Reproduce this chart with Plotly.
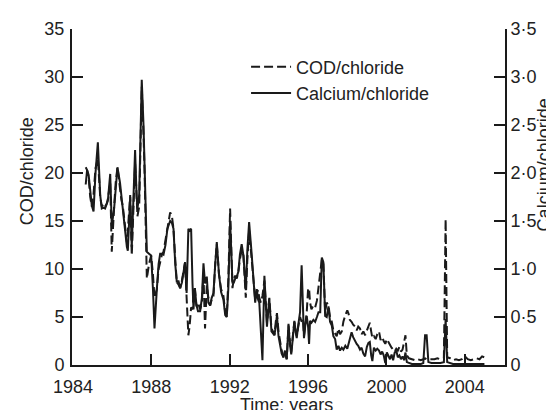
import plotly.graph_objects as go

# ---- data ----
dates = [
    1984.65, 1984.72, 1984.80, 1984.88, 1984.96,
    1985.05, 1985.15, 1985.27, 1985.39, 1985.47, 1985.56, 1985.64, 1985.72, 1985.78, 1985.90, 1985.98,
    1986.10, 1986.18, 1986.27, 1986.40, 1986.47, 1986.54, 1986.66, 1986.75, 1986.80, 1986.92,
    1987.00, 1987.08, 1987.17, 1987.25, 1987.29, 1987.38, 1987.51, 1987.60, 1987.65, 1987.77, 1987.88, 1987.99,
    1988.08, 1988.16, 1988.28, 1988.37, 1988.45, 1988.54, 1988.62, 1988.72, 1988.82, 1988.96,
    1989.05, 1989.13, 1989.22, 1989.30, 1989.38, 1989.47, 1989.56, 1989.64, 1989.72, 1989.80, 1989.89, 1989.95,
    1990.03, 1990.10, 1990.15, 1990.22, 1990.30, 1990.38, 1990.49, 1990.58, 1990.66, 1990.74, 1990.83, 1990.91,
    1991.00, 1991.08, 1991.17, 1991.26, 1991.34, 1991.45, 1991.56, 1991.68, 1991.77, 1991.85, 1991.93,
    1992.02, 1992.08, 1992.14, 1992.21, 1992.28, 1992.36, 1992.44, 1992.52, 1992.61, 1992.70, 1992.82, 1992.90, 1992.99,
    1993.10, 1993.21, 1993.30, 1993.38, 1993.45, 1993.51, 1993.59, 1993.67, 1993.77, 1993.84, 1993.90,
    1994.02, 1994.08, 1994.13, 1994.21, 1994.28, 1994.35, 1994.41, 1994.49, 1994.57, 1994.65, 1994.74, 1994.82, 1994.91,
    1995.00, 1995.07, 1995.14, 1995.22, 1995.30, 1995.36, 1995.42, 1995.50, 1995.59, 1995.67, 1995.73, 1995.79, 1995.86, 1995.93,
    1996.00, 1996.05, 1996.10, 1996.17, 1996.27, 1996.36, 1996.45, 1996.53, 1996.62, 1996.70, 1996.78, 1996.87, 1996.95,
    1997.04, 1997.12, 1997.21, 1997.29, 1997.38, 1997.46, 1997.55, 1997.63, 1997.72, 1997.80, 1997.90,
    1998.00, 1998.07, 1998.13, 1998.22, 1998.30, 1998.40, 1998.48, 1998.56, 1998.65, 1998.73, 1998.82, 1998.91,
    1999.00, 1999.08, 1999.15, 1999.22, 1999.28, 1999.36, 1999.45, 1999.53, 1999.62, 1999.70, 1999.78, 1999.86, 1999.94,
    2000.02, 2000.10, 2000.18, 2000.26, 2000.34, 2000.42, 2000.50, 2000.58, 2000.66, 2000.74, 2000.82, 2000.90, 2000.97,
    2001.04, 2001.15, 2001.30, 2001.45, 2001.60, 2001.75, 2001.88, 2001.97,
    2002.05, 2002.14, 2002.30, 2002.45, 2002.60, 2002.75, 2002.93,
    2003.02, 2003.10, 2003.25, 2003.40, 2003.55, 2003.70, 2003.85,
    2004.00, 2004.15, 2004.30, 2004.45, 2004.60, 2004.75, 2004.88, 2005.00,
]

cod_chloride = [
    20.6, 20.3, 19.5, 17.5, 16.5,
    17.8, 20.5, 21.5, 17.5, 16.5, 16.8, 16.5, 16.8, 17.3, 19.0, 11.8,
    16.5, 19.0, 20.6, 18.0, 17.2, 16.6, 14.0, 12.8, 14.0, 17.7,
    11.4, 15.5, 21.0, 17.5, 15.5, 16.5, 29.0, 24.0, 20.5, 9.0, 10.5, 11.4,
    9.5, 7.0, 7.9, 10.0, 10.7, 11.5, 11.8, 13.0, 14.2, 15.9,
    15.5, 14.2, 11.0, 8.6, 8.4, 8.0, 8.8, 9.8, 10.7, 7.0, 3.1, 4.0,
    6.0, 5.8, 7.2, 8.0, 6.1, 6.5, 5.8, 6.5, 9.5, 3.8, 8.3, 7.0,
    6.2, 6.8, 7.2, 10.5, 12.6, 9.5, 7.9, 7.2, 5.5, 5.0, 9.0,
    16.3, 13.0, 8.0, 9.0, 9.3, 9.0, 9.7, 11.0, 12.0, 11.4, 7.0, 11.0, 14.0,
    11.5, 8.5, 6.8, 7.5, 7.8, 7.0, 6.5, 7.2, 8.8, 6.5, 4.4,
    7.0, 5.5, 3.8, 3.5, 3.1, 4.5, 5.4, 3.5, 2.4, 1.5, 0.8, 1.2, 0.6,
    4.1, 2.5, 1.3, 3.0, 4.5, 3.5, 3.0, 4.0, 5.0, 4.5, 4.8, 3.0, 4.0, 5.5,
    7.9, 8.0, 6.5, 5.8, 6.2, 6.0, 6.7, 8.3, 10.0, 11.0, 10.5, 5.5, 6.5,
    6.2, 5.0, 4.5, 3.6, 3.3, 3.0, 3.8, 3.2, 3.5, 4.5, 5.2,
    5.7, 5.3, 4.7, 4.5, 4.2, 4.0, 3.6, 4.0, 3.8, 3.2, 3.5, 3.1,
    3.6, 4.0, 4.4, 3.5, 2.8, 3.0, 2.7, 3.2, 3.5, 2.6, 2.9, 2.5, 2.2,
    2.7, 2.4, 2.0, 1.8, 1.6, 1.4, 1.7, 1.5, 1.9, 1.4, 1.6, 2.6, 3.1,
    1.0, 0.7, 0.6, 0.5, 0.6, 0.5, 0.6, 0.7,
    0.6, 0.6, 0.6, 0.6, 0.7, 0.6, 0.7,
    15.2, 0.8, 0.7, 0.5, 0.6, 0.5, 0.6,
    0.9, 0.6, 0.5, 0.6, 0.7, 0.6, 0.9, 0.8,
]

calcium_chloride = [
    1.88, 2.03, 1.98, 1.80, 1.66,
    1.60, 2.00, 2.32, 1.77, 1.63, 1.64, 1.63, 1.69, 1.71, 1.99, 1.45,
    1.63, 1.86, 2.06, 1.90, 1.75, 1.66, 1.35, 1.23, 1.19, 1.75,
    1.23, 1.65, 2.24, 1.75, 1.63, 1.77, 2.97, 2.50, 2.05, 1.18, 1.16, 1.14,
    0.80, 0.38, 0.79, 1.05, 1.16, 1.16, 1.15, 1.25, 1.42, 1.50,
    1.48, 1.42, 1.05, 0.86, 0.88, 0.80, 0.86, 0.95, 1.07, 0.75, 1.42, 1.40,
    1.42, 0.85, 0.58, 0.80, 0.63, 0.56, 0.56, 0.70, 1.06, 0.85, 0.92, 0.65,
    0.62, 0.70, 0.75, 1.05, 1.28, 0.95, 0.76, 0.68, 0.52, 0.50, 0.80,
    1.50, 1.25, 0.86, 0.86, 0.90, 0.92, 0.97, 1.15, 1.26, 1.14, 0.78, 1.20, 1.49,
    1.21, 0.93, 0.65, 0.79, 0.68, 0.65, 0.40, 0.05, 0.93, 0.55, 0.40,
    0.69, 0.45, 0.35, 0.33, 0.31, 0.40, 0.52, 0.30, 0.20, 0.12, 0.08, 0.15, 0.06,
    0.43, 0.22, 0.11, 0.28, 0.46, 0.36, 0.28, 0.42, 0.55, 1.04, 0.50, 0.28, 0.42, 0.51,
    0.40, 0.22, 0.46, 0.44, 0.47, 0.45, 0.50, 0.55, 0.55, 1.12, 1.07, 0.51, 0.50,
    0.61, 0.45, 0.41, 0.30, 0.27, 0.16, 0.20, 0.15, 0.18, 0.16, 0.20,
    0.17, 0.23, 0.28, 0.34, 0.29, 0.24, 0.22, 0.20, 0.16, 0.18, 0.12, 0.09,
    0.19, 0.23, 0.24, 0.10, 0.04, 0.18, 0.15, 0.17, 0.15, 0.11, 0.14, 0.10, 0.02,
    0.13, 0.10, 0.06, 0.11, 0.05, 0.13, 0.15, 0.08, 0.10, 0.06, 0.09, 0.05, 0.13,
    0.03, 0.02, 0.01, 0.01, 0.01, 0.01, 0.02, 0.31,
    0.31, 0.03, 0.02, 0.02, 0.02, 0.02, 0.03,
    0.48, 0.03, 0.02, 0.01, 0.01, 0.01, 0.01,
    0.01, 0.01, 0.01, 0.01, 0.01, 0.01, 0.01, 0.01,
]

x_ticks = [1984, 1988, 1992, 1996, 2000, 2004]
left_ticks = [0, 5, 10, 15, 20, 25, 30, 35]
right_ticks = [0, 0.5, 1.0, 1.5, 2.0, 2.5, 3.0, 3.5]
right_tick_text = ["0", "0·5", "1·0", "1·5", "2·0", "2·5", "3·0", "3·5"]

assert len(dates) == len(cod_chloride) == len(calcium_chloride)

# ---- styling ----
INK = "#1a1a1a"
TXT = "#222"
FONT = "Liberation Sans, Arial, sans-serif"

fig = go.Figure()
fig.add_trace(go.Scatter(
    x=dates, y=cod_chloride, name="COD/chloride", mode="lines",
    line=dict(color=INK, width=2, dash="9px,4px"), yaxis="y",
))
fig.add_trace(go.Scatter(
    x=dates, y=calcium_chloride, name="Calcium/chloride", mode="lines",
    line=dict(color=INK, width=2), yaxis="y2",
))

axis_common = dict(
    showline=True, linecolor=INK, linewidth=2, ticks="inside", ticklen=11,
    tickwidth=2, tickcolor=INK, showgrid=False, zeroline=False,
    tickfont=dict(family=FONT, size=18, color=TXT),
)

fig.update_layout(
    width=554, height=410, autosize=False,
    margin=dict(l=64, r=57, t=21, b=53, pad=0),
    paper_bgcolor="white", plot_bgcolor="white",
    font=dict(family=FONT, size=18, color=TXT),
    showlegend=True,
    legend=dict(x=0.402, y=0.942, xanchor="left", yanchor="top",
                bgcolor="rgba(0,0,0,0)", font=dict(family=FONT, size=18, color=TXT),
                itemwidth=40, tracegroupgap=0),
    xaxis=dict(range=[1983.95, 2006.05], tickvals=x_ticks, ticklabelstandoff=4, **axis_common),
    yaxis=dict(range=[0, 35], tickvals=left_ticks, ticklabelstandoff=2, **axis_common),
    yaxis2=dict(range=[0, 3.5], tickvals=right_ticks, ticktext=right_tick_text,
                overlaying="y", side="right", ticklabelstandoff=0, **axis_common),
    annotations=[
        dict(text="COD/chloride", xref="paper", yref="paper", x=-0.102, y=0.576,
             textangle=-90, showarrow=False, xanchor="center", yanchor="middle",
             font=dict(family=FONT, size=18, color=TXT)),
        dict(text="Calcium/chloride", xref="paper", yref="paper", x=1.090, y=0.597,
             textangle=-90, showarrow=False, xanchor="center", yanchor="middle",
             font=dict(family=FONT, size=18, color=TXT)),
        dict(text="Time: years", xref="paper", yref="paper", x=0.4965, y=-0.119,
             showarrow=False, xanchor="center", yanchor="middle",
             font=dict(family=FONT, size=18, color=TXT)),
    ],
)

fig.write_html("out.html")
